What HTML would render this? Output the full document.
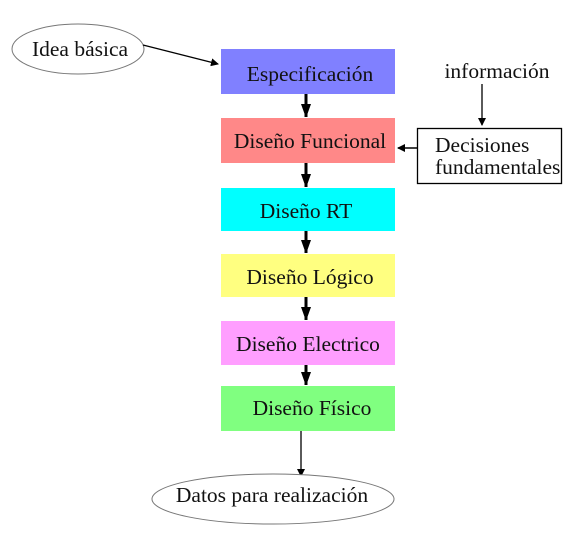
<!DOCTYPE html>
<html><head><meta charset="utf-8"><style>body{margin:0;background:#fff}</style></head>
<body>
<svg width="585" height="540" xmlns="http://www.w3.org/2000/svg" font-family="Liberation Serif, serif" font-size="21.5" fill="#111">
<defs><marker id="a" markerWidth="8" markerHeight="8" refX="7" refY="4" orient="auto" markerUnits="userSpaceOnUse"><path d="M0,0L8,4L0,8z" fill="#000"/></marker>
<marker id="b" markerWidth="10" markerHeight="14" refX="13" refY="5" orient="auto" markerUnits="userSpaceOnUse"><path d="M0,0L14,5L0,10z" fill="#000"/></marker></defs>
<ellipse cx="78" cy="49" rx="66" ry="25" fill="#fff" stroke="#777"/>
<text x="80" y="56" text-anchor="middle">Idea básica</text>
<line x1="143" y1="45" x2="218" y2="64" stroke="#000" stroke-width="1.3" marker-end="url(#a)"/>
<rect x="221" y="49" width="174" height="45" fill="#8080ff"/>
<text x="310" y="81" text-anchor="middle">Especificación</text>
<rect x="221" y="118" width="174" height="45" fill="#ff8888"/>
<text x="310" y="148" text-anchor="middle">Diseño Funcional</text>
<rect x="221" y="188" width="174" height="43" fill="#00ffff"/>
<text x="306" y="218" text-anchor="middle">Diseño RT</text>
<rect x="221" y="254" width="174" height="43" fill="#ffff80"/>
<text x="310" y="284" text-anchor="middle">Diseño Lógico</text>
<rect x="221" y="321" width="174" height="44" fill="#ff9eff"/>
<text x="308" y="351" text-anchor="middle">Diseño Electrico</text>
<rect x="221" y="386" width="174" height="45" fill="#80ff80"/>
<text x="312" y="415" text-anchor="middle">Diseño Físico</text>
<g stroke="#000" stroke-width="3">
<line x1="306" y1="94" x2="306" y2="117" marker-end="url(#b)"/>
<line x1="306" y1="163" x2="306" y2="187" marker-end="url(#b)"/>
<line x1="306" y1="231" x2="306" y2="253" marker-end="url(#b)"/>
<line x1="306" y1="297" x2="306" y2="320" marker-end="url(#b)"/>
<line x1="306" y1="365" x2="306" y2="385" marker-end="url(#b)"/>
</g>
<line x1="301" y1="431" x2="301" y2="476" stroke="#000" stroke-width="1.3" marker-end="url(#a)"/>
<ellipse cx="273" cy="499" rx="121" ry="25" fill="#fff" stroke="#777"/>
<text x="272" y="502" text-anchor="middle">Datos para realización</text>
<text x="497" y="78" text-anchor="middle">información</text>
<line x1="482" y1="84" x2="482" y2="125" stroke="#000" stroke-width="1.3" marker-end="url(#a)"/>
<rect x="417.5" y="128.5" width="144" height="55" fill="#fff" stroke="#000" stroke-width="1.3"/>
<text x="435" y="152">Decisiones</text>
<text x="435" y="174">fundamentales</text>
<line x1="417" y1="148" x2="398" y2="148" stroke="#000" stroke-width="1.5" marker-end="url(#a)"/>
</svg>
</body></html>
